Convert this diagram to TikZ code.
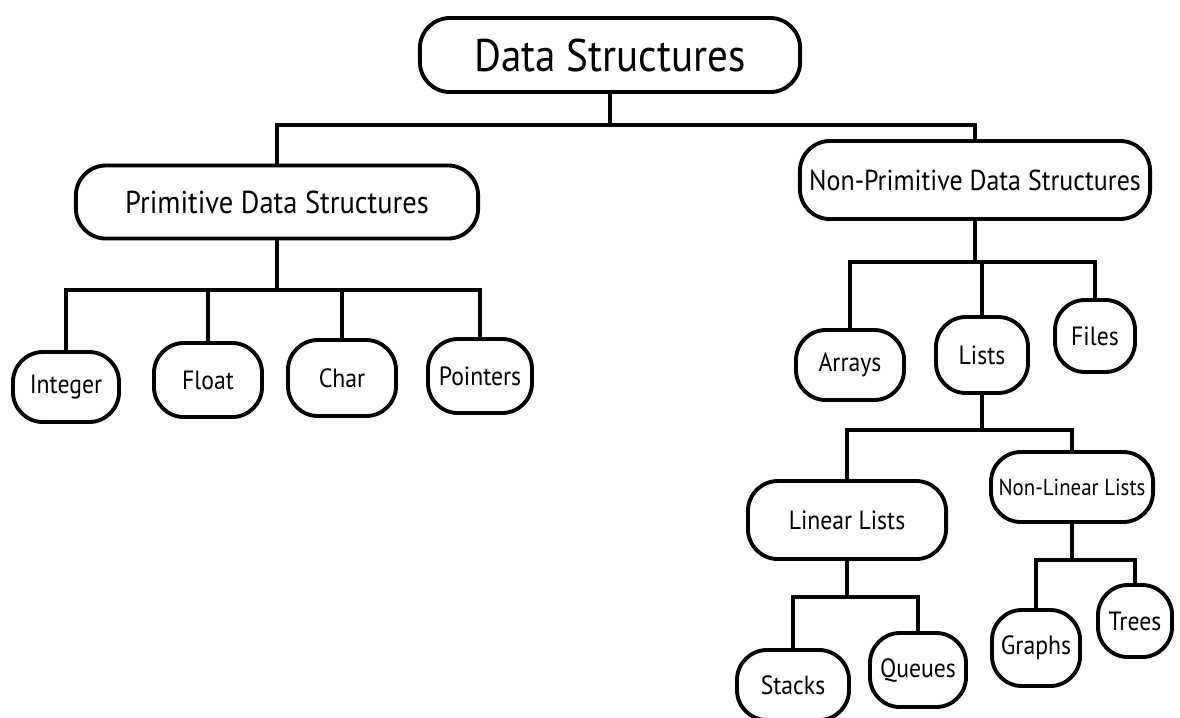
\documentclass[tikz,border=0pt]{standalone}
\usepackage{fontspec}
\setmainfont{PT Sans}[FakeStretch = 0.9]
\tikzstyle{diagram} = [x = 0.01cm, y = -0.01cm]
\tikzstyle{treeBox} = [draw, line width = 1.1pt, rounded corners = .3cm, inner sep = 0pt]
\tikzstyle{treeLine} = [line width = 1.1pt]
\tikzstyle{rootText} = [font = \fontsize{13}{15}\selectfont]
\tikzstyle{kindText} = [font = \fontsize{9}{11}\selectfont]
\tikzstyle{leafText} = [font = \fontsize{7.5}{9}\selectfont]
\newcommand{\treeNode}[6]{\node [treeBox, #6, minimum width = #4cm, minimum height = #5cm] (#1) at #2 {#3};}
\newcommand{\branch}[3]{\draw [treeLine] (#1.south) -- (#1.south |- #2) -| (#3.north);}

\begin{document}
\begin{tikzpicture}[diagram]
  \useasboundingbox (0,0) rectangle (1180,717);

  \treeNode{dataStructures}{(610,55)}{Data Structures}{3.8}{.74}{rootText}
  \treeNode{primitive}{(277,202)}{Primitive Data Structures}{4.02}{.73}{kindText}
  \treeNode{nonPrimitive}{(975,180)}{Non-Primitive Data Structures}{3.5}{.78}{kindText, font = \fontsize{8.2}{10}\selectfont}

  \treeNode{integer}{(66,387)}{Integer}{1.06}{.7}{leafText}
  \treeNode{float}{(208,380)}{Float}{1.08}{.74}{leafText}
  \treeNode{char}{(342,378)}{Char}{1.08}{.76}{leafText}
  \treeNode{pointers}{(480,376)}{Pointers}{1.04}{.74}{leafText}

  \treeNode{arrays}{(850,365)}{Arrays}{1.08}{.7}{leafText}
  \treeNode{lists}{(982,355)}{Lists}{.92}{.76}{leafText}
  \treeNode{files}{(1095,336)}{Files}{.8}{.72}{leafText}

  \treeNode{linearLists}{(847,520)}{Linear Lists}{1.98}{.78}{leafText}
  \treeNode{nonLinearLists}{(1072,487)}{Non-Linear Lists}{1.62}{.7}{leafText, font = \fontsize{6.6}{8}\selectfont}

  \treeNode{stacks}{(793,685)}{Stacks}{1.12}{.7}{leafText}
  \treeNode{queues}{(918,670)}{Queues}{.96}{.74}{leafText}
  \treeNode{graphs}{(1036,648)}{Graphs}{.88}{.76}{leafText}
  \treeNode{trees}{(1135,621)}{Trees}{.74}{.72}{leafText}

  % bus heights
  \coordinate (rootBus) at (0,125);
  \coordinate (primitiveBus) at (0,290);
  \coordinate (nonPrimitiveBus) at (0,262);
  \coordinate (listsBus) at (0,430);
  \coordinate (linearBus) at (0,597);
  \coordinate (nonLinearBus) at (0,560);

  \branch{dataStructures}{rootBus}{primitive}
  \branch{dataStructures}{rootBus}{nonPrimitive}

  \foreach \leaf in {integer, float, char, pointers} {
    \branch{primitive}{primitiveBus}{\leaf}
  }
  \foreach \leaf in {arrays, lists, files} {
    \branch{nonPrimitive}{nonPrimitiveBus}{\leaf}
  }

  \branch{lists}{listsBus}{linearLists}
  \branch{lists}{listsBus}{nonLinearLists}
  \branch{linearLists}{linearBus}{stacks}
  \branch{linearLists}{linearBus}{queues}
  \branch{nonLinearLists}{nonLinearBus}{graphs}
  \branch{nonLinearLists}{nonLinearBus}{trees}
\end{tikzpicture}
\end{document}
